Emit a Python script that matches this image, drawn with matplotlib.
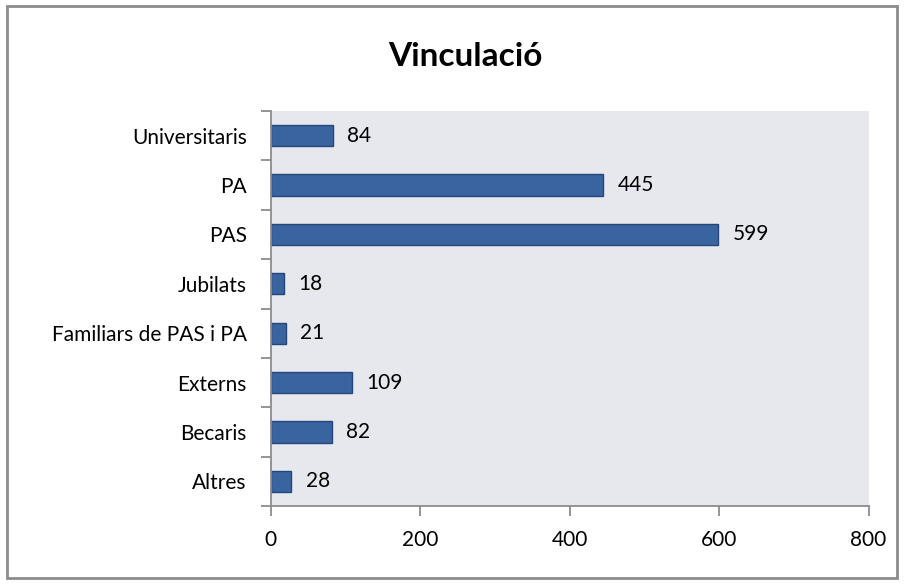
import matplotlib
matplotlib.use("Agg")
import matplotlib.pyplot as plt
from matplotlib.patches import Rectangle

categories = ["Universitaris", "PA", "PAS", "Jubilats", "Familiars de PAS i PA",
              "Externs", "Becaris", "Altres"]
values = [84, 445, 599, 18, 21, 109, 82, 28]
x_ticks = [0, 200, 400, 600, 800]

plt.rcParams['font.family'] = ['Lato', 'DejaVu Sans']

W, H = 905, 584
fig = plt.figure(figsize=(W / 100, H / 100), dpi=100)

# outer chart border
fig.patches.append(Rectangle((7 / W, 1 - 578 / H), 890 / W, 572 / H,
                             transform=fig.transFigure, fill=False,
                             edgecolor="#8c8c8c", linewidth=2))

left, right, top, bottom = 270.5, 868.5, 111, 506
ax = fig.add_axes([left / W, 1 - bottom / H, (right - left) / W, (bottom - top) / H])
ax.set_facecolor("#e7e8ee")

n = len(categories)
pos = list(range(n))[::-1]
ax.barh(pos, values, height=0.43, color="#3a64a0", edgecolor="#24467a", linewidth=1)

for p, v in zip(pos, values):
    ax.text(v + 19, p, str(v), va="center", ha="left", fontsize=15, color="#000000")

ax.set_xlim(0, 800)
ax.set_ylim(-0.5, n - 0.5)
ax.set_xticks(x_ticks)
ax.set_xticklabels([str(t) for t in x_ticks], fontsize=15)

# category labels at bar centres, ticks at category boundaries
ax.set_yticks(pos)
ax.set_yticklabels(categories, fontsize=15)
ax.tick_params(axis="y", which="major", length=0, pad=17)
ax.set_yticks([i - 0.5 for i in range(n + 1)], minor=True)
ax.tick_params(axis="y", which="minor", length=7, width=1.3, color="#8c8c8c", direction="out")
ax.tick_params(axis="x", length=7, width=1.3, color="#8c8c8c", direction="out", pad=10)

for s in ["top", "right"]:
    ax.spines[s].set_visible(False)
for s in ["left", "bottom"]:
    ax.spines[s].set_color("#8c8c8c")
    ax.spines[s].set_linewidth(1.3)

fig.text(465 / W, 1 - 56 / H, "Vinculació", ha="center", va="center",
         fontsize=24, fontweight="bold")

fig.savefig("out.png", dpi=100)
